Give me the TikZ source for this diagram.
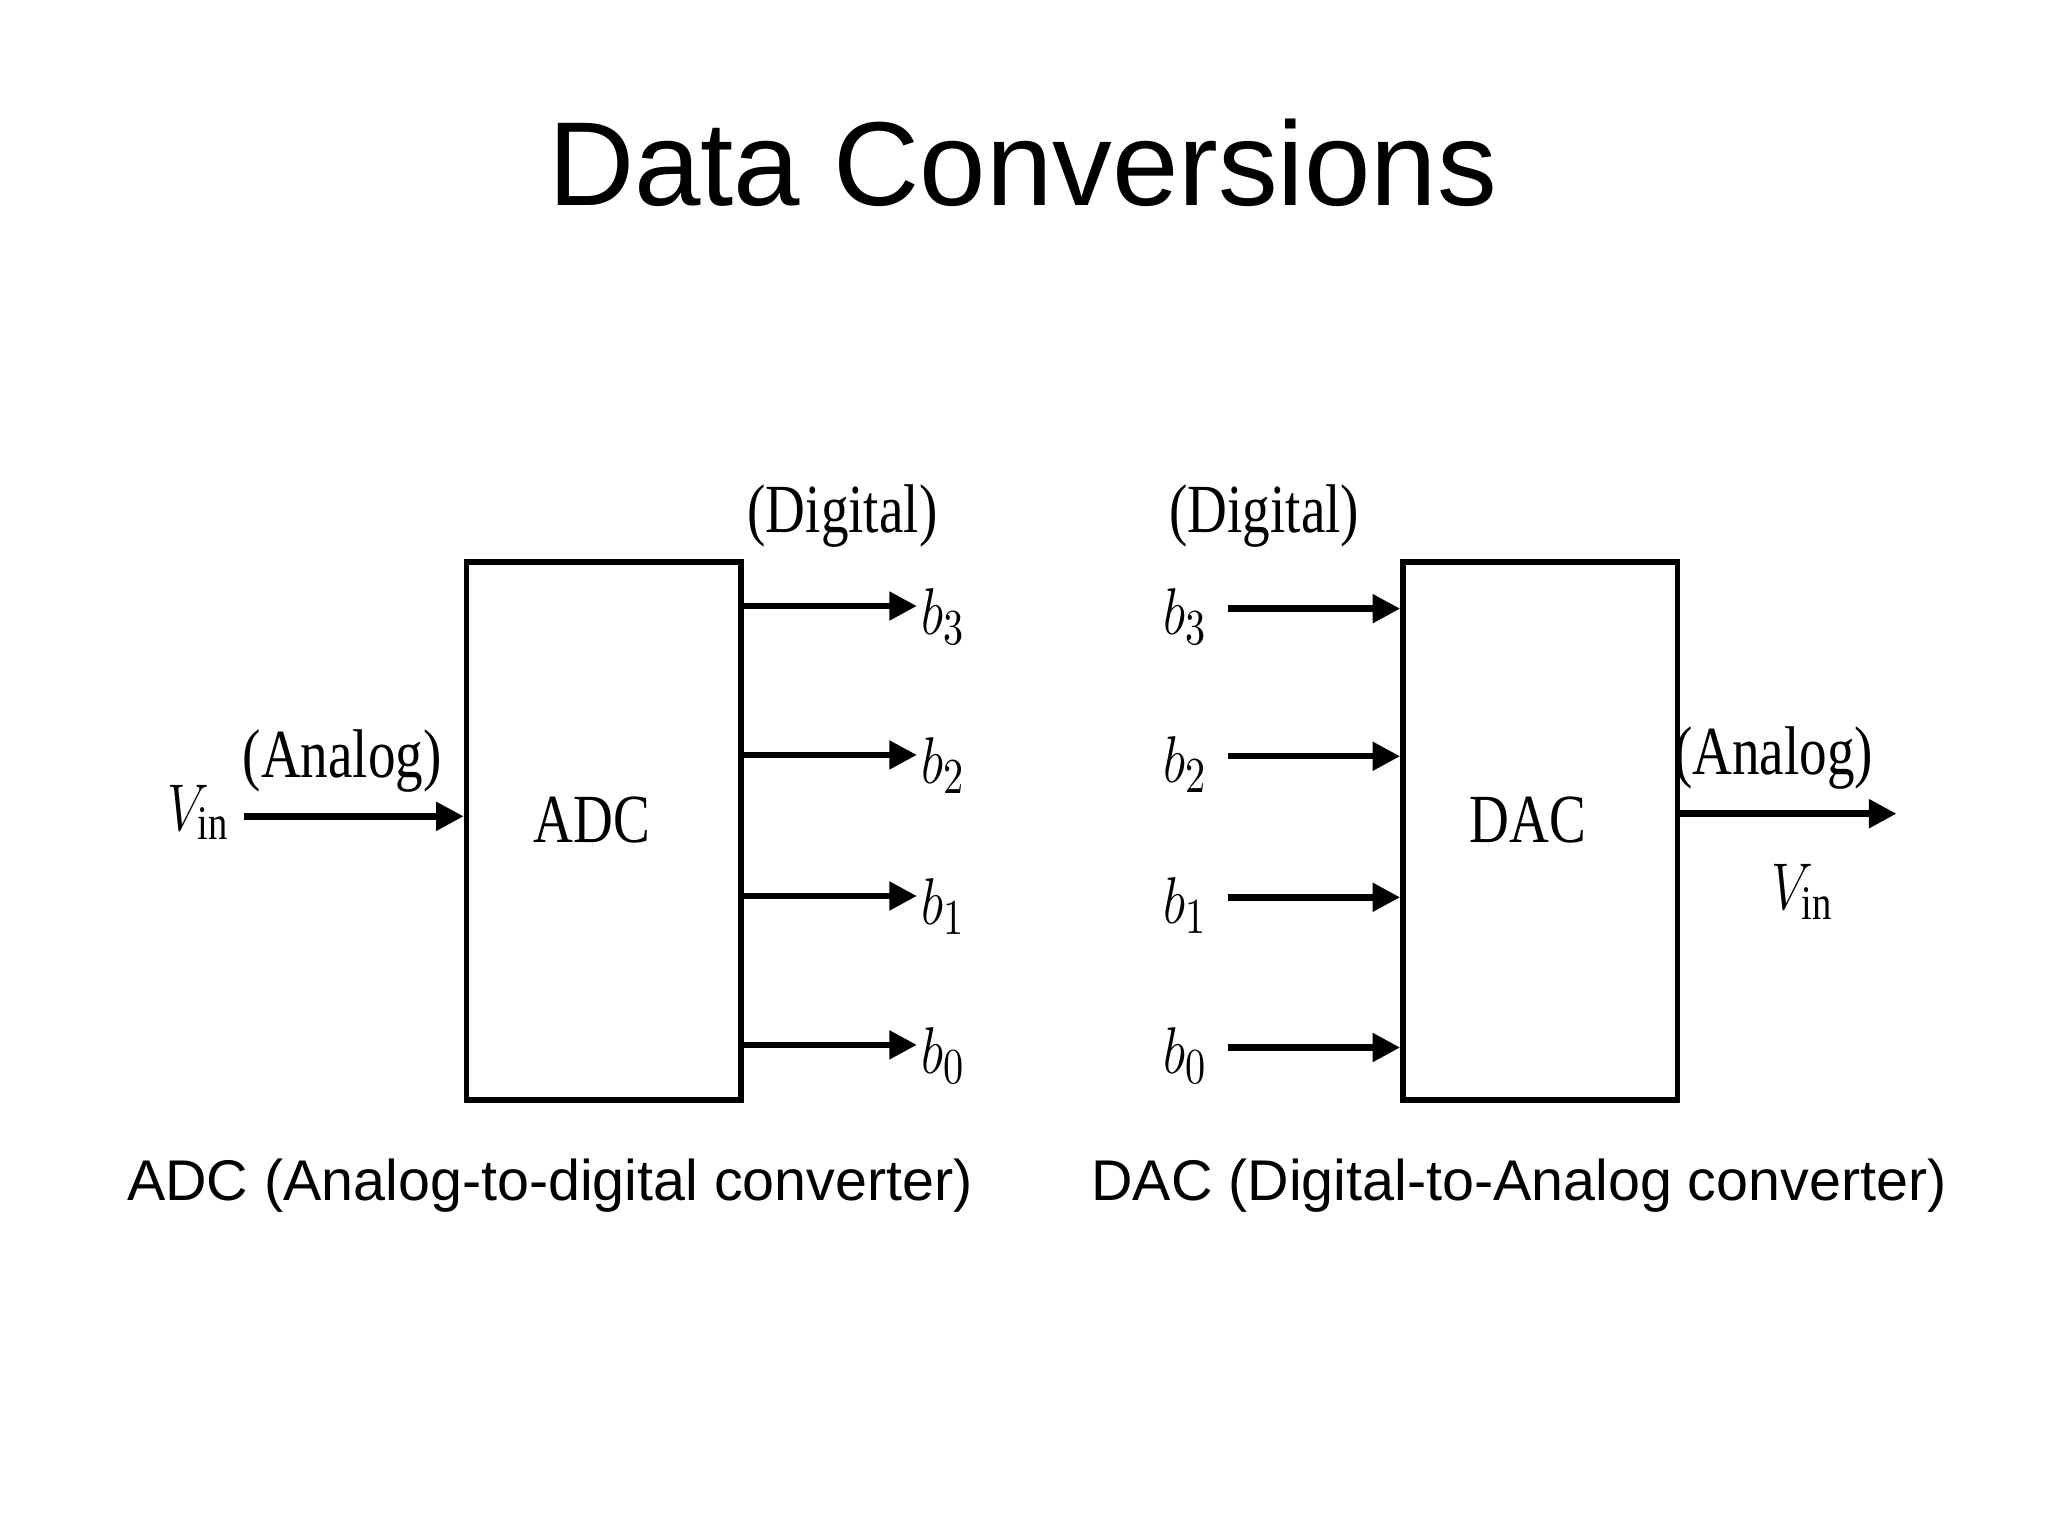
\documentclass[tikz,border=0pt]{standalone}
\usepackage{fontspec}
\setmainfont{Liberation Serif}
\newfontfamily\arial{Liberation Sans}
\usetikzlibrary{arrows.meta}
\begin{document}
\begin{tikzpicture}[x=0.01cm,y=-0.01cm,
  blk/.style={draw,line width=1.2pt,minimum width=2.1cm,minimum height=4.12cm,anchor=north west,font=\fontsize{15}{15}\selectfont},
  sig/.style={line width=1.4pt,-{Triangle[length=6pt,width=6pt]}},
  lab/.style={font=\fontsize{15}{15}\selectfont,xscale=0.8},
  captext/.style={font=\arial\fontsize{12.5}{14}\selectfont}]
\useasboundingbox (0,0) rectangle (1568,1176);
\node[font=\arial\fontsize{26}{30}\selectfont] (title) at (783,125) {Data Conversions};
% ADC
\node[blk] (adc) at (355,428) {};
\node[lab] (adct) at (453,628) {ADC};
\coordinate (vinA) at (187,625);
\draw[sig] (vinA) -- (adc.west |- vinA);
\node[lab] (vinl) at (152,622) {$V_{\mathrm{in}}$};
\node[lab] (anA) at (262,583) {(Analog)};
\node[lab] (digA) at (645,395) {(Digital)};
\foreach \y/\n [count=\i] in {464/3,578/2,686/1,800/0}{
  \coordinate (ao\i) at (702,\y);
  \draw[sig] (adc.west |- ao\i) ++(210,0) -- (ao\i);
  \node[lab] (ab\i) at (722,\y+8) {$b_{\n}$};
}
% DAC
\node[blk] (dac) at (1072,428) {};
\node[lab] (dact) at (1170,628) {DAC};
\node[lab] (digD) at (968,395) {(Digital)};
\foreach \y/\n [count=\i] in {466/3,579/2,687/1,802/0}{
  \coordinate (di\i) at (940,\y);
  \draw[sig] (di\i) -- (dac.west |- di\i);
  \node[lab] (db\i) at (908,\y+6) {$b_{\n}$};
}
\coordinate (vout) at (1452,623);
\draw[sig] (dac.east |- vout) -- (vout);
\node[lab] (anD) at (1358,580) {(Analog)};
\node[lab] (voutl) at (1380,683) {$V_{\mathrm{in}}$};
% captions
\node[captext] (capA) at (421,908) {ADC (Analog-to-digital converter)};
\node[captext] (capD) at (1163,908) {DAC (Digital-to-Analog converter)};
\end{tikzpicture}
\end{document}
